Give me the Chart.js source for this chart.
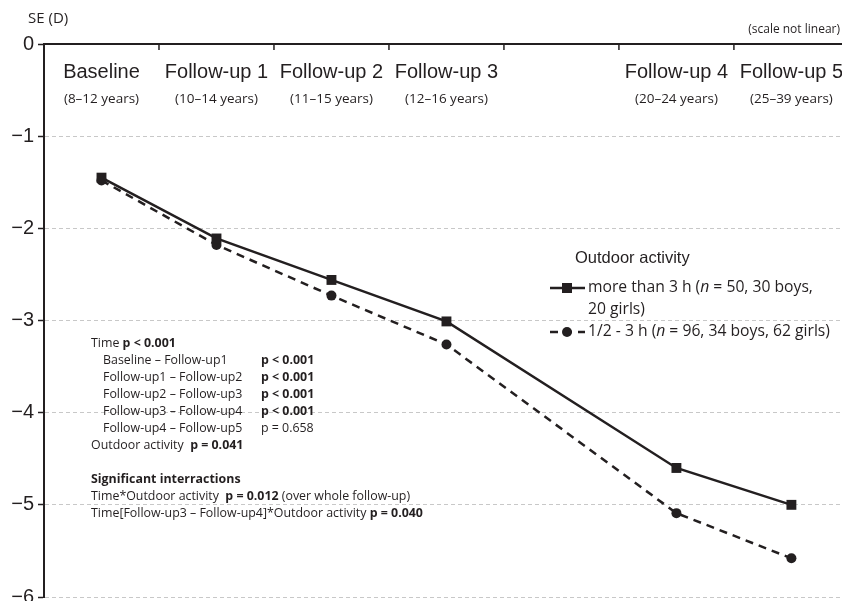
<!DOCTYPE html>
<html>
<head>
<meta charset="utf-8">
<script src="https://cdn.jsdelivr.net/npm/chart.js@4/dist/chart.umd.min.js"></script>
<style>
html, body { margin: 0; padding: 0; overflow: hidden; background: #fff; }
#wrap { position: relative; width: 842px; height: 601px; }
canvas { display: block; }
</style>
</head>
<body>
<div id="wrap"><canvas id="c" width="842" height="601" style="width:842px;height:601px"></canvas></div>
<script>
// ---- data ----
const categories = ['Baseline', 'Follow-up 1', 'Follow-up 2', 'Follow-up 3', '', 'Follow-up 4', 'Follow-up 5'];
const ageRanges = ['(8–12 years)', '(10–14 years)', '(11–15 years)', '(12–16 years)', '', '(20–24 years)', '(25–39 years)'];
const moreThan3h = [-1.45, -2.11, -2.56, -3.01, null, -4.60, -5.00];
const halfTo3h = [-1.48, -2.18, -2.73, -3.26, null, -5.09, -5.58];
const yMin = -6, yMax = 0, yStep = 1;
const xMin = -0.5, xMax = 6.44; // last slot is cut off by the right edge
const yTitle = 'SE (D)';
const scaleNote = '(scale not linear)';
const legendTitle = 'Outdoor activity';
const legend1 = [[['more than 3 h (', 0, 0], ['n', 0, 1], [' = 50, 30 boys,', 0, 0]], [['20 girls)', 0, 0]]];
const legend2 = [[['1/2 - 3 h (', 0, 0], ['n', 0, 1], [' = 96, 34 boys, 62 girls)', 0, 0]]];
const timeContrasts = ['Baseline – Follow-up1', 'Follow-up1 – Follow-up2', 'Follow-up2 – Follow-up3', 'Follow-up3 – Follow-up4', 'Follow-up4 – Follow-up5'];
const contrastP = ['p < 0.001', 'p < 0.001', 'p < 0.001', 'p < 0.001', 'p = 0.658'];
const contrastBold = [true, true, true, true, false];
const timeLine = [['Time ', 0], ['p < 0.001', 1]];
const outdoorLine = [['Outdoor activity  ', 0], ['p = 0.041', 1]];
const interTitle = [['Significant interractions', 1]];
const inter1 = [['Time*Outdoor activity  ', 0], ['p = 0.012', 1], [' (over whole follow-up)', 0]];
const inter2 = [['Time[Follow-up3 – Follow-up4]*Outdoor activity ', 0], ['p = 0.040', 1]];

const INK = '#231f20';
const SANS2 = '"Open Sans", "DejaVu Sans", sans-serif';
const ARIAL = '"Liberation Sans", Arial, sans-serif';

const toPoints = arr => arr.map((v, i) => ({ x: i, y: v }));

function runs(ctx, x, y, parts, size, fam) {
  let cx = x;
  for (const p of parts) {
    const bold = p[1], ital = p[2];
    ctx.font = (ital ? 'italic ' : '') + (bold ? 'bold ' : '') + size + 'px ' + fam;
    ctx.fillText(p[0], cx, y);
    cx += ctx.measureText(p[0]).width;
  }
}

const overlay = {
  id: 'overlay',
  afterDatasetsDraw(chart) {
    const ctx = chart.ctx;
    const xs = chart.scales.x, ys = chart.scales.y;
    const ca = chart.chartArea;
    const y0 = ys.getPixelForValue(0);
    ctx.save();
    // top axis
    ctx.strokeStyle = INK; ctx.lineWidth = 2;
    ctx.beginPath(); ctx.moveTo(ca.left - 1, y0); ctx.lineTo(ca.right, y0); ctx.stroke();
    const n = categories.length;
    ctx.lineWidth = 1.5;
    for (let i = 0; i < n; i++) {
      const x = xs.getPixelForValue(i + 0.5);
      ctx.beginPath(); ctx.moveTo(x, y0); ctx.lineTo(x, y0 + 6); ctx.stroke();
    }
    ctx.fillStyle = INK;
    ctx.textBaseline = 'middle';
    ctx.textAlign = 'center';
    for (let i = 0; i < n; i++) {
      const x = xs.getPixelForValue(i);
      ctx.font = '20px ' + ARIAL;
      ctx.fillText(categories[i], x, 72);
      ctx.font = '13.5px ' + SANS2;
      ctx.fillText(ageRanges[i], x, 99);
    }
    ctx.textAlign = 'left';
    ctx.font = '15px ' + SANS2;
    ctx.fillText(yTitle, 28, 19);
    ctx.textAlign = 'right';
    ctx.font = '12px ' + SANS2;
    ctx.fillText(scaleNote, 840, 30);
    ctx.textAlign = 'left';
    // legend
    ctx.font = '16.5px ' + ARIAL;
    ctx.fillText(legendTitle, 575, 258);
    ctx.strokeStyle = INK; ctx.lineWidth = 2.5;
    ctx.beginPath(); ctx.moveTo(550, 288); ctx.lineTo(585, 288); ctx.stroke();
    ctx.fillRect(562, 283, 10, 10);
    ctx.setLineDash([8, 6]);
    ctx.beginPath(); ctx.moveTo(550, 332); ctx.lineTo(585, 332); ctx.stroke();
    ctx.setLineDash([]);
    ctx.beginPath(); ctx.arc(567, 332, 5, 0, Math.PI * 2); ctx.fill();
    runs(ctx, 588, 288, legend1[0], 15.7, SANS2);
    runs(ctx, 588, 310, legend1[1], 15.7, SANS2);
    runs(ctx, 588, 332, legend2[0], 15.7, SANS2);
    // stats
    const fs = 12.4;
    runs(ctx, 91, 343, timeLine, fs, SANS2);
    for (let i = 0; i < timeContrasts.length; i++) {
      const y = 360 + i * 17;
      runs(ctx, 103, y, [[timeContrasts[i], 0]], fs, SANS2);
      runs(ctx, 261, y, [[contrastP[i], contrastBold[i] ? 1 : 0]], fs, SANS2);
    }
    runs(ctx, 91, 445, outdoorLine, fs, SANS2);
    runs(ctx, 91, 479, interTitle, fs, SANS2);
    runs(ctx, 91, 496, inter1, fs, SANS2);
    runs(ctx, 91, 513, inter2, fs, SANS2);
    ctx.restore();
  }
};

new Chart(document.getElementById('c'), {
  type: 'line',
  data: {
    datasets: [
      { label: 'more than 3 h', data: toPoints(moreThan3h), borderColor: INK, backgroundColor: INK, borderWidth: 2.5,
        pointStyle: 'rect', pointRadius: 7, pointBorderWidth: 0, spanGaps: true, tension: 0, clip: false },
      { label: '1/2 - 3 h', data: toPoints(halfTo3h), borderColor: INK, backgroundColor: INK, borderWidth: 2.5,
        borderDash: [8, 6], pointStyle: 'circle', pointRadius: 5, pointBorderWidth: 0, spanGaps: true, tension: 0, clip: false }
    ]
  },
  options: {
    responsive: false, maintainAspectRatio: false, animation: false, devicePixelRatio: 1,
    layout: { autoPadding: false, padding: { top: 44, bottom: 4, left: 0, right: 0 } },
    plugins: { legend: { display: false }, tooltip: { enabled: false } },
    scales: {
      x: { type: 'linear', min: xMin, max: xMax, display: false },
      y: {
        min: yMin, max: yMax,
        afterFit(s) { s.width = 44; s.paddingTop = 0; s.paddingBottom = 0; },
        ticks: { stepSize: yStep, color: INK, padding: 4, font: { family: ARIAL, size: 20 },
          callback: v => v === 0 ? '0' : '\u2212' + Math.abs(v) },
        grid: { color: '#c8c8c8', lineWidth: 1, tickColor: INK, tickLength: 6, tickWidth: 1.5 },
        border: { display: true, color: INK, width: 2, dash: [4, 3] }
      }
    }
  },
  plugins: [overlay]
});
</script>
</body>
</html>
